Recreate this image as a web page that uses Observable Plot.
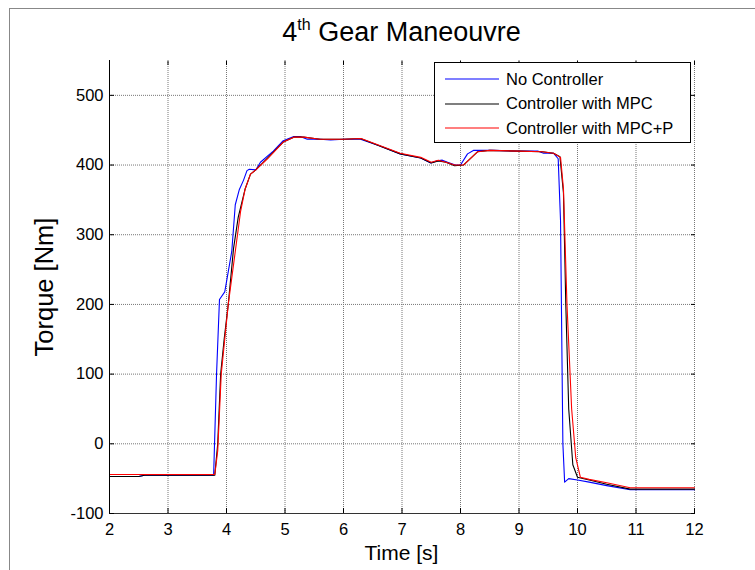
<!DOCTYPE html>
<html>
<head>
<meta charset="utf-8">
<script src="https://cdn.jsdelivr.net/npm/d3@7"></script>
<script src="https://cdn.jsdelivr.net/npm/@observablehq/plot@0.6"></script>
<style>
  body { margin: 0; background: #fff; }
  #wrap { position: relative; width: 755px; height: 570px; overflow: hidden; background: #fff;
          font-family: "Liberation Sans", Arial, sans-serif; color: #000; }
  #wrap > svg { position: absolute; left: 0; top: 0; }
  .fig-border { position: absolute; left: 9px; top: 8px; width: 800px; height: 600px; border-left: 1px solid #888; border-top: 1px solid #888; }
  #title { position: absolute; left: 109px; width: 585px; top: 16px; text-align: center; font-size: 27px; line-height: 32px; }
  #title sup { font-size: 16px; vertical-align: 11px; line-height: 0; }
  #xlabel { position: absolute; left: 109px; width: 585px; top: 541px; text-align: center; font-size: 21px; line-height: 24px; }
  #ylabel { position: absolute; left: 44px; top: 287px; transform: translate(-50%, -50%) rotate(-90deg); white-space: nowrap; font-size: 25.5px; line-height: 28px; }
  #legend { position: absolute; left: 434px; top: 62px; width: 255px; height: 79px; border: 1px solid #000; background: #fff; font-size: 16.5px; }
  .row { position: absolute; left: 0; height: 20px; display: flex; align-items: center; }
  .row svg { display: block; margin-left: 10px; margin-right: 7px; }
</style>
</head>
<body>
<div id="wrap">
  <div class="fig-border"></div>
</div>
<script>
// ---- data ----
const seriesNames = ["No Controller", "Controller with MPC", "Controller with MPC+P"];
const seriesColors = ["#0000ff", "#000000", "#ff0000"];

const tNoCtrl = [2, 2.5, 2.6, 3.78, 3.83, 3.88, 3.97, 4.09, 4.15, 4.22, 4.29, 4.35, 4.39, 4.5, 4.58, 4.8, 4.97, 5.15, 5.26, 5.38, 5.6, 5.78, 6.0, 6.29, 6.6, 6.97, 7.32, 7.49, 7.6, 7.69, 7.78, 7.91, 8.0, 8.12, 8.22, 8.56, 8.97, 9.32, 9.42, 9.59, 9.67, 9.71, 9.75, 9.78, 9.85, 10.0, 10.2, 10.5, 10.9, 12];
const yNoCtrl = [-47, -47, -45, -45, 100, 207, 218, 276, 343, 365, 378, 392, 394, 393, 404, 420, 435, 441, 441, 437, 437, 436, 437, 437, 428, 416, 410, 403, 406, 407, 404, 400, 400, 416, 421, 421, 420, 420, 417, 417, 409, 320, 0, -55, -50, -52, -55, -60, -66, -66];

const tMPC = [2, 2.5, 2.6, 3.8, 3.85, 3.9, 3.96, 4.03, 4.12, 4.2, 4.32, 4.41, 4.5, 4.7, 4.97, 5.15, 5.32, 5.6, 6.0, 6.29, 6.97, 7.32, 7.5, 7.62, 7.75, 7.9, 8.05, 8.29, 8.5, 9.0, 9.4, 9.59, 9.7, 9.76, 9.8, 9.85, 9.92, 10.0, 10.2, 10.5, 10.9, 12];
const yMPC = [-47, -47, -45, -45, 0, 100, 150, 200, 280, 325, 366, 387, 393, 410, 433, 440, 440, 437, 437, 438, 416, 410, 403, 406, 404, 399, 400, 419, 421, 420, 419, 417, 412, 360, 200, 50, -30, -48, -52, -58, -65, -65];

const tMPCP = [2, 3.8, 3.85, 3.91, 3.97, 4.03, 4.15, 4.24, 4.32, 4.41, 4.5, 4.7, 4.97, 5.15, 5.32, 5.6, 6.0, 6.3, 6.97, 7.32, 7.5, 7.62, 7.75, 7.9, 8.05, 8.29, 8.5, 9.0, 9.4, 9.59, 9.71, 9.76, 9.82, 9.9, 9.97, 10.05, 10.2, 10.5, 10.9, 12];
const yMPCP = [-44, -44, -10, 100, 150, 200, 276, 333, 366, 387, 393, 409, 433, 440, 440, 437, 437, 438, 417, 411, 404, 407, 404, 400, 400, 419, 421, 420, 419, 417, 411, 366, 200, 50, -20, -48, -51, -56, -63, -63];

const xTicks = [2, 3, 4, 5, 6, 7, 8, 9, 10, 11, 12];
const yTicks = [-100, 0, 100, 200, 300, 400, 500];
const titleMain = "Gear Maneouvre";
const xLabel = "Time [s]";
const yLabel = "Torque [Nm]";

// ---- build ----
const toRows = (ts, ys) => ts.map((t, i) => ({t, v: ys[i]}));
const rows = [toRows(tNoCtrl, yNoCtrl), toRows(tMPC, yMPC), toRows(tMPCP, yMPCP)];

const grid = {stroke: "#777", strokeOpacity: 1, strokeDasharray: "1,1", strokeWidth: 1};

const chart = Plot.plot({
  width: 755,
  height: 570,
  marginLeft: 109,
  marginRight: 61,
  marginTop: 60,
  marginBottom: 57,
  style: {fontFamily: "'Liberation Sans', Arial, sans-serif", fontSize: "16.5px", background: "transparent", color: "#000"},
  x: {domain: [2, 12]},
  y: {domain: [-100, 550]},
  marks: [
    Plot.gridX(xTicks, grid),
    Plot.gridY(yTicks, grid),
    ...rows.map((r, i) => Plot.line(r, {x: "t", y: "v", stroke: seriesColors[i], strokeWidth: 1.1})),
    Plot.ruleX([2], {stroke: "#000"}),
    Plot.ruleY([-100], {stroke: "#333"}),
    Plot.axisX(xTicks, {anchor: "bottom", tickSize: -5, tickPadding: 15, label: null, tickFormat: d => String(d)}),
    Plot.axisX(xTicks, {anchor: "top", tickSize: -4, label: null, tickFormat: () => ""}),
    Plot.axisY(yTicks, {anchor: "left", tickSize: -5, tickPadding: 11, label: null, tickFormat: d => String(d)}),
    Plot.axisY(yTicks, {anchor: "right", tickSize: -4, label: null, tickFormat: () => ""})
  ]
});

const wrap = document.getElementById("wrap");
wrap.appendChild(chart);

const title = document.createElement("div");
title.id = "title";
title.innerHTML = "4<sup>th</sup> " + titleMain;
wrap.appendChild(title);

const xl = document.createElement("div");
xl.id = "xlabel"; xl.textContent = xLabel; wrap.appendChild(xl);
const yl = document.createElement("div");
yl.id = "ylabel"; yl.textContent = yLabel; wrap.appendChild(yl);

const NS = "http://www.w3.org/2000/svg";
const leg = document.createElement("div");
leg.id = "legend";
seriesNames.forEach((name, i) => {
  const row = document.createElement("div");
  row.className = "row";
  row.style.top = (6 + i * 24.5) + "px";
  const sv = document.createElementNS(NS, "svg");
  sv.setAttribute("width", "54"); sv.setAttribute("height", "20");
  const ln = document.createElementNS(NS, "line");
  ln.setAttribute("x1", "0"); ln.setAttribute("x2", "54");
  ln.setAttribute("y1", "10"); ln.setAttribute("y2", "10");
  ln.setAttribute("stroke", seriesColors[i]); ln.setAttribute("stroke-width", "1.1");
  sv.appendChild(ln);
  const tx = document.createElement("span");
  tx.textContent = name;
  row.appendChild(sv); row.appendChild(tx);
  leg.appendChild(row);
});
wrap.appendChild(leg);
</script>
</body>
</html>
